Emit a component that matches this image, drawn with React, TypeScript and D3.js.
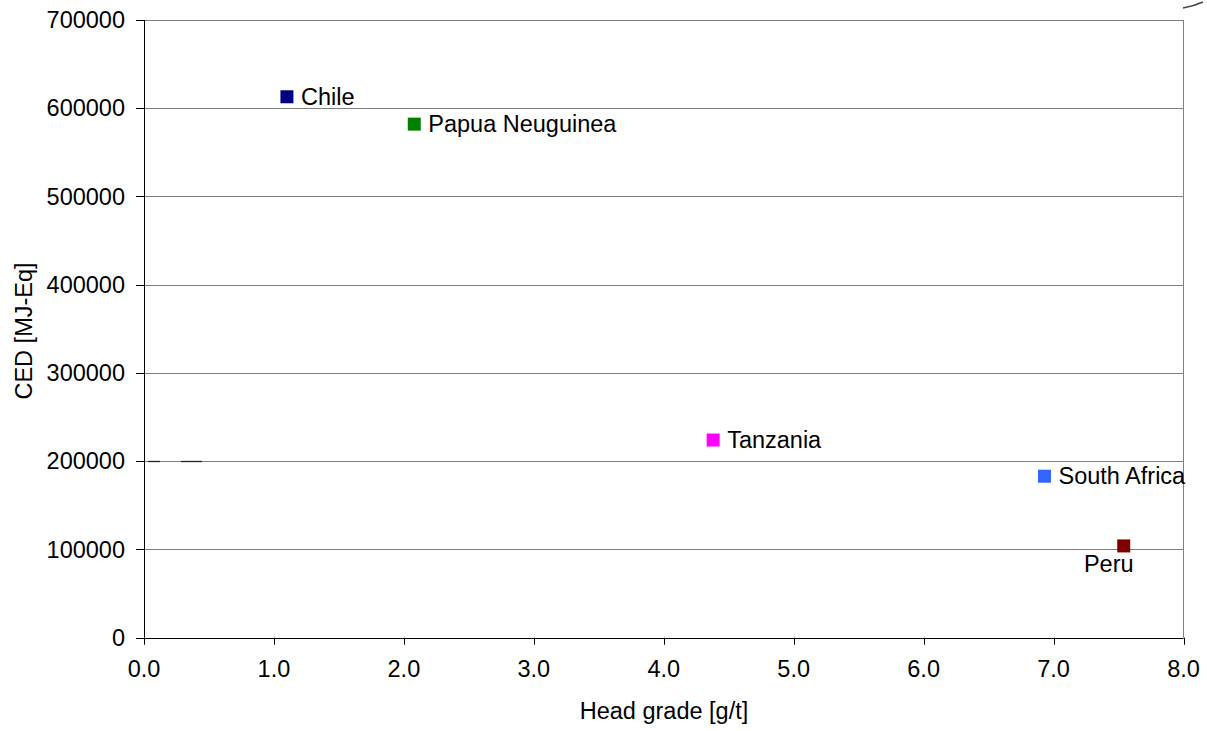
import React from "react";
import * as d3 from "d3";

const countries = ["Chile", "Papua Neuguinea", "Tanzania", "South Africa", "Peru"];
const headGrade = [1.1, 2.08, 4.38, 6.93, 7.54];
const ced = [613000, 582000, 224000, 183000, 104000];
const colors = ["#000080", "#008000", "#FF00FF", "#3366FF", "#800000"];
const xTicks = [0, 1, 2, 3, 4, 5, 6, 7, 8];
const yTicks = [0, 100000, 200000, 300000, 400000, 500000, 600000, 700000];

const W = 1207;
const H = 731;
const L = 144, R = 1183.5, T = 20, B = 637.7;
const FONT = "'Liberation Sans', Arial, sans-serif";
const FS = 23.5;

export default function App() {
  const x = d3.scaleLinear().domain([0, 8]).range([L, R]);
  const y = d3.scaleLinear().domain([0, 700000]).range([B, T]);
  const sq = 13;
  const y200 = Math.round(y(200000)) + 0.5;
  return (
    <svg width={W} height={H} style={{ position: "absolute", left: 0, top: 0 }} fontFamily={FONT}>
      <rect x={0} y={0} width={W} height={H} fill="#fff" />
      {yTicks.filter((t) => t > 0).map((t) => (
        <line key={t} x1={L} x2={R} y1={Math.round(y(t)) + 0.5} y2={Math.round(y(t)) + 0.5} stroke="#808080" strokeWidth={1} />
      ))}
      <line x1={R} x2={R} y1={T} y2={B} stroke="#808080" strokeWidth={1} />
      <line x1={148} x2={160} y1={y200} y2={y200} stroke="#222" strokeWidth={1.3} />
      <line x1={181} x2={202} y1={y200} y2={y200} stroke="#222" strokeWidth={1.3} />
      <path d="M1183,8 Q1194,6 1203,2" stroke="#444" strokeWidth={1.5} fill="none" />
      <line x1={L + 0.5} x2={L + 0.5} y1={T} y2={B} stroke="#000" />
      <line x1={L} x2={R} y1={Math.round(B) + 0.5} y2={Math.round(B) + 0.5} stroke="#000" />
      {yTicks.map((t) => (
        <g key={t}>
          <line x1={L - 8} x2={L} y1={Math.round(y(t)) + 0.5} y2={Math.round(y(t)) + 0.5} stroke="#000" />
          <text x={125} y={y(t)} dy="0.35em" textAnchor="end" fontSize={FS} fill="#000">{t}</text>
        </g>
      ))}
      {xTicks.map((t) => (
        <g key={t}>
          <line x1={Math.round(x(t)) + 0.5} x2={Math.round(x(t)) + 0.5} y1={B} y2={B + 7} stroke="#000" />
          <text x={x(t)} y={677} textAnchor="middle" fontSize={FS} fill="#000">{t.toFixed(1)}</text>
        </g>
      ))}
      <text x={664} y={719} textAnchor="middle" fontSize={FS} fill="#000">Head grade [g/t]</text>
      <text transform={`translate(32,331) rotate(-90)`} textAnchor="middle" fontSize={FS} fill="#000">CED [MJ-Eq]</text>
      {countries.map((c, i) => {
        const cx = x(headGrade[i]);
        const cy = y(ced[i]);
        const isPeru = c === "Peru";
        return (
          <g key={c}>
            <rect x={cx - sq / 2} y={cy - sq / 2} width={sq} height={sq} fill={colors[i]} />
            <text
              x={isPeru ? cx - 15 : cx + 14}
              y={isPeru ? cy + 26 : cy}
              dy={isPeru ? 0 : "0.35em"}
              textAnchor={isPeru ? "middle" : "start"}
              fontSize={FS}
              fill="#000"
            >{c}</text>
          </g>
        );
      })}
    </svg>
  );
}
